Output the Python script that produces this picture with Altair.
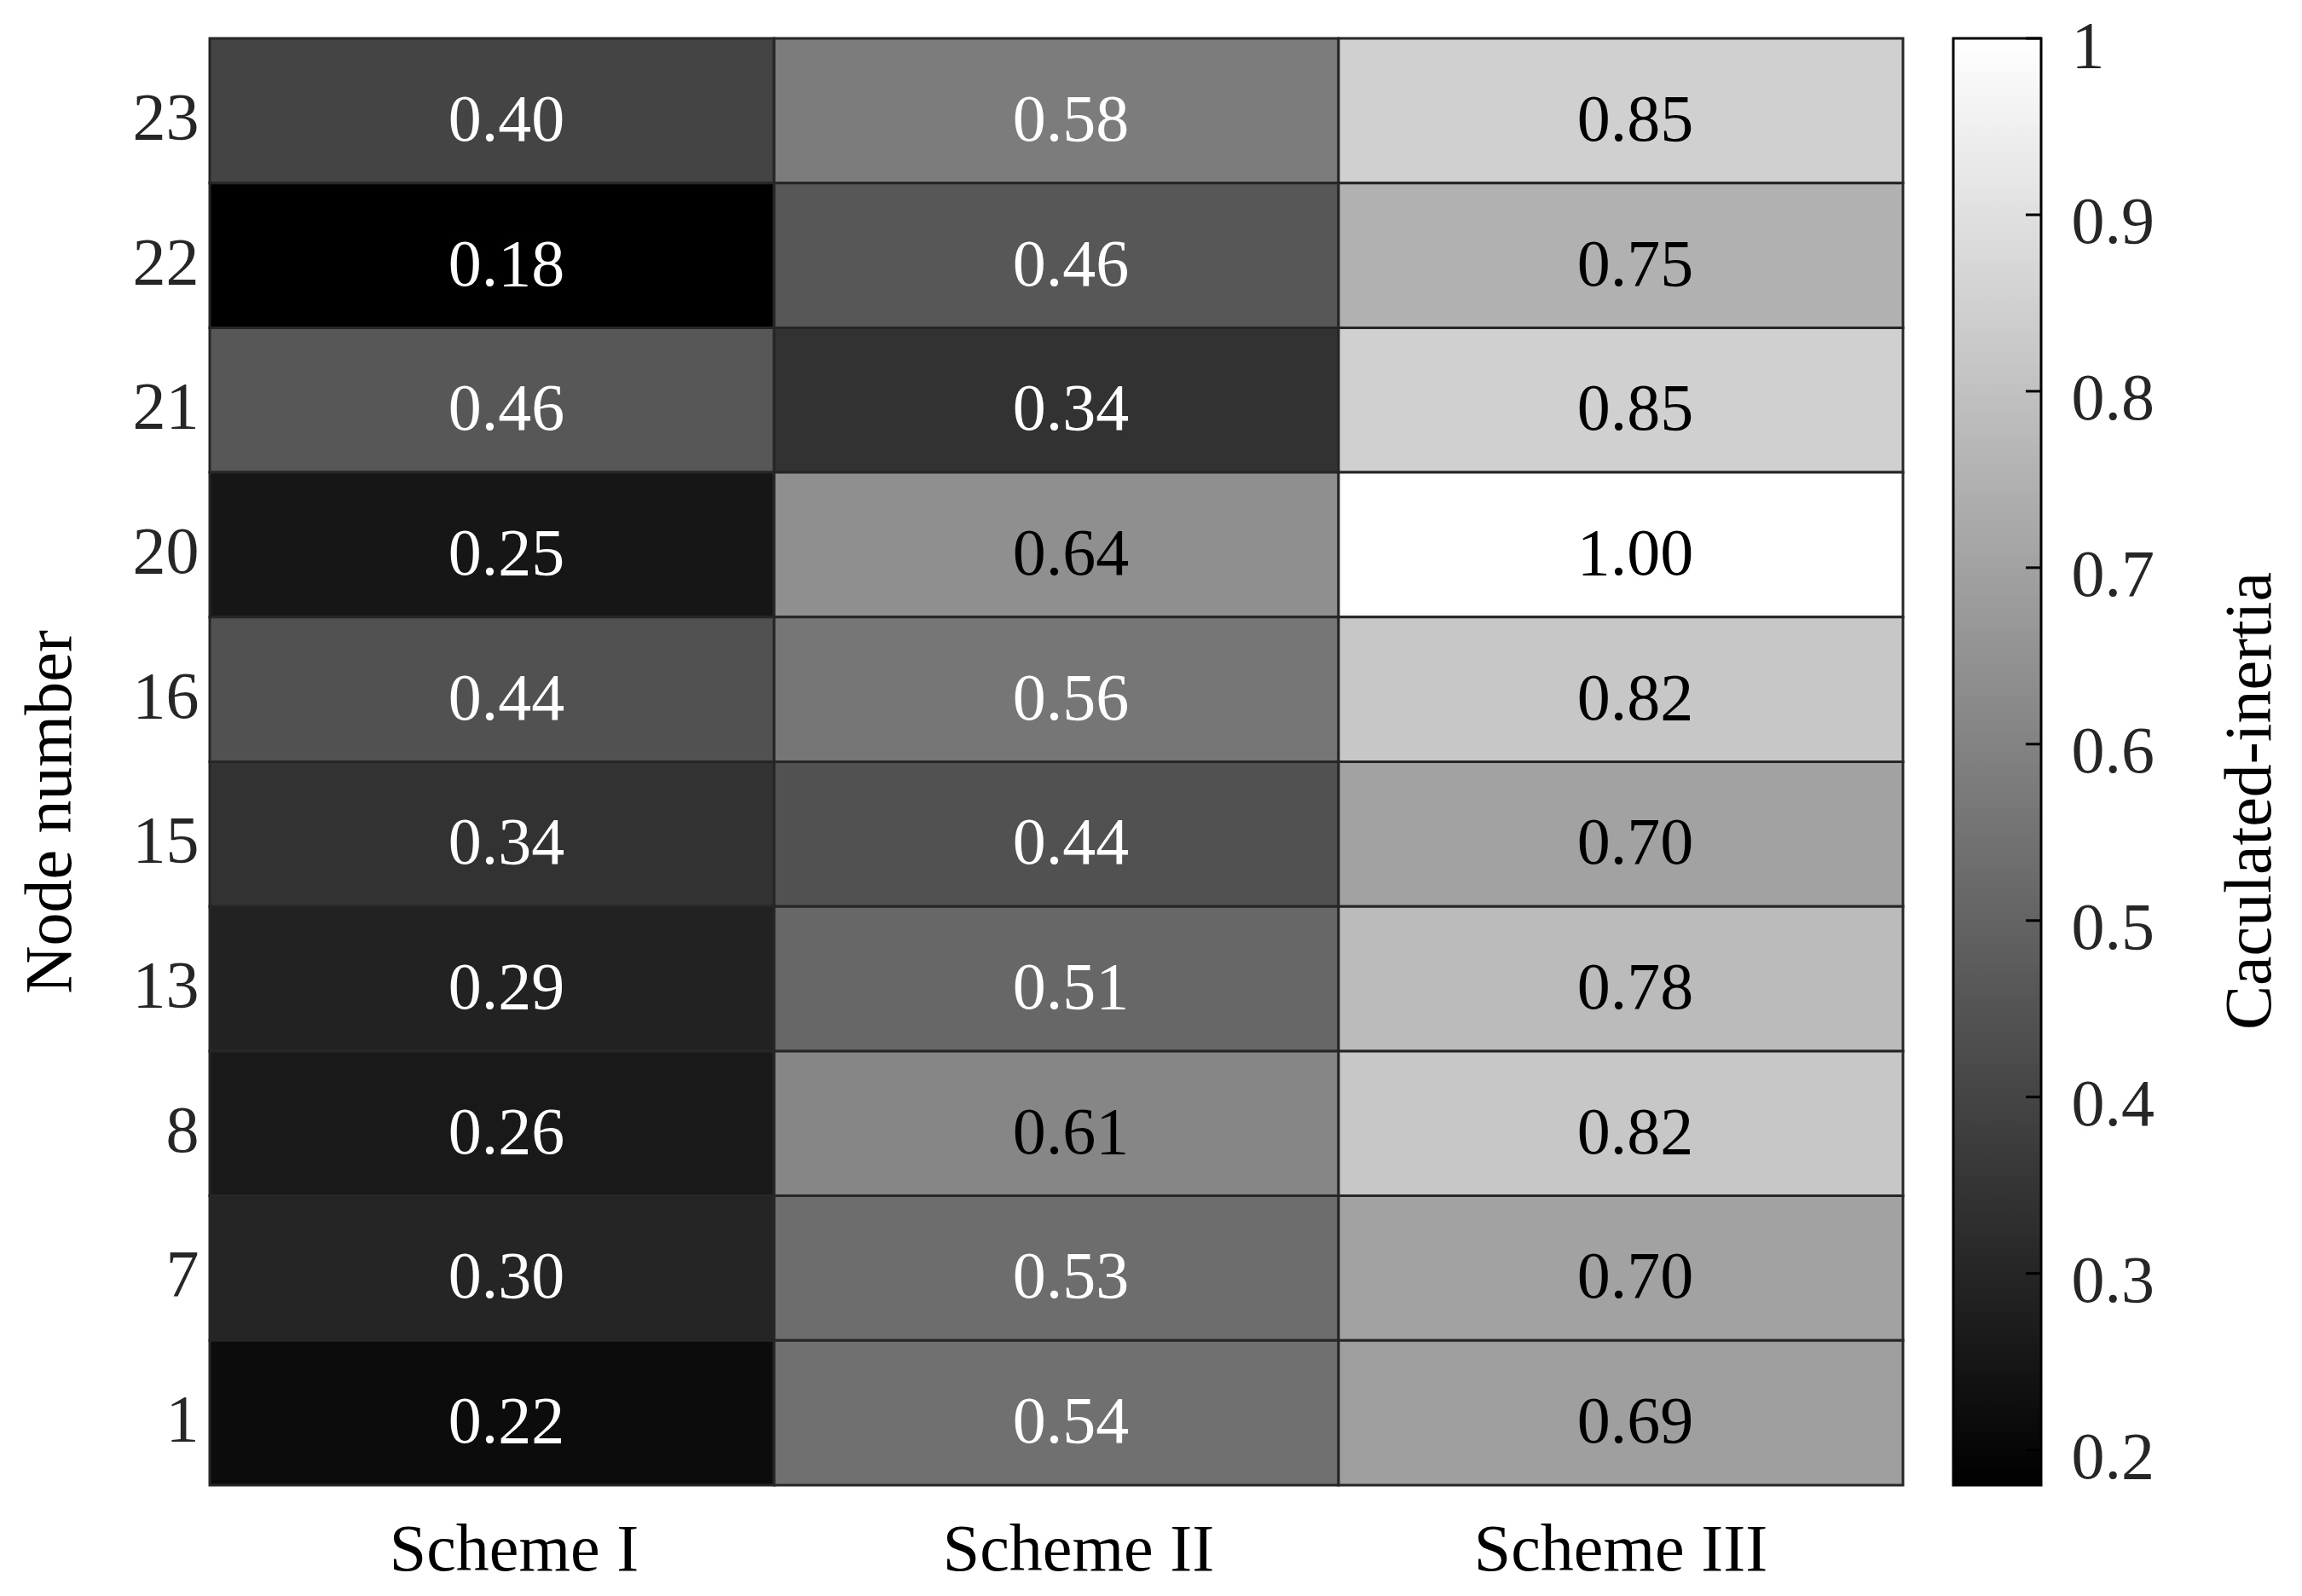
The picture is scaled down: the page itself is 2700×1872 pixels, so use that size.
import altair as alt
import pandas as pd

nodes = ["23", "22", "21", "20", "16", "15", "13", "8", "7", "1"]
schemes = ["Scheme I", "Scheme II", "Scheme III"]
scheme1 = [0.40, 0.18, 0.46, 0.25, 0.44, 0.34, 0.29, 0.26, 0.30, 0.22]
scheme2 = [0.58, 0.46, 0.34, 0.64, 0.56, 0.44, 0.51, 0.61, 0.53, 0.54]
scheme3 = [0.85, 0.75, 0.85, 1.00, 0.82, 0.70, 0.78, 0.82, 0.70, 0.69]
cbar_ticks = [0.2, 0.3, 0.4, 0.5, 0.6, 0.7, 0.8, 0.9, 1.0]

rows = []
for s, vals in zip(schemes, [scheme1, scheme2, scheme3]):
    for n, v in zip(nodes, vals):
        rows.append({"scheme": s, "node": n, "value": v})
df = pd.DataFrame(rows)
vmin, vmax = float(df["value"].min()), float(df["value"].max())

FONT = "Liberation Serif"
FS = 78
W, H = 1986, 1697
CBW = 103

color_scale = alt.Scale(domain=[vmin, vmax], range=["#000000", "#ffffff"], interpolate="rgb")

xenc = alt.X(
    "scheme:N", sort=schemes, title=None,
    axis=alt.Axis(labelAngle=0, ticks=False, domain=False, labelPadding=37, labelLimit=0,
                  labelFontSize=FS, labelFont=FONT, labelColor="#000000",
                  labelOffset={"condition": {"test": "datum.value == 'Scheme III'", "value": 0}, "value": 26}),
)
yenc = alt.Y(
    "node:N", sort=nodes, title="Node number",
    axis=alt.Axis(ticks=False, domain=False, labelPadding=13, labelOffset=10, labelLimit=0,
                  labelFontSize=FS, labelFont=FONT, labelColor="#262626",
                  titleFontSize=FS, titleFont=FONT, titleFontWeight="normal",
                  titleColor="#000000", titlePadding=57, titleY=907),
)

base = alt.Chart(df)
cells = base.mark_rect(stroke="#262626", strokeWidth=3).encode(
    x=xenc, y=yenc,
    color=alt.Color("value:Q", scale=color_scale, legend=None),
)
labels = base.mark_text(font=FONT, fontSize=FS, dx=17, dy=12).encode(
    x=xenc, y=yenc,
    text=alt.Text("value:Q", format=".2f"),
    color=alt.condition("datum.value < 0.6", alt.value("#ffffff"), alt.value("#000000")),
)
heat = alt.layer(cells, labels).properties(width=W, height=H)

cb_df = pd.DataFrame({"lo": [vmin], "hi": [vmax]})
tick_df = pd.DataFrame({"t": cbar_ticks})
cb_scale = alt.Scale(domain=[vmin, vmax], nice=False, zero=False)
cb_axis = alt.Axis(orient="right", values=cbar_ticks, format="~g", ticks=False,
                   domain=False, grid=False, labelPadding=35, labelOffset=10, labelLimit=0,
                   labelFontSize=FS, labelFont=FONT, labelColor="#262626",
                   titleFontSize=FS, titleFont=FONT, titleFontWeight="normal",
                   titleColor="#000000", titleAngle=270, titleBaseline="top",
                   titlePadding=74, titleY=894)

grad = alt.LinearGradient(
    gradient="linear",
    stops=[alt.GradientStop(color="#000000", offset=0), alt.GradientStop(color="#ffffff", offset=1)],
    x1=0, x2=0, y1=1, y2=0,
)
cb_rect = alt.Chart(cb_df).mark_rect(fill=grad, stroke="#000000", strokeWidth=3).encode(
    y=alt.Y("lo:Q", scale=cb_scale, title="Caculated-inertia", axis=cb_axis),
    y2="hi:Q",
    x=alt.value(0), x2=alt.value(CBW),
)
cb_ticks = alt.Chart(tick_df).mark_rule(color="#000000", strokeWidth=3).encode(
    y=alt.Y("t:Q", scale=cb_scale, title="Caculated-inertia", axis=cb_axis),
    x=alt.value(CBW - 18), x2=alt.value(CBW),
)
cbar = alt.layer(cb_rect, cb_ticks).properties(width=CBW, height=H)

chart = alt.hconcat(heat, cbar, spacing=55).properties(
    padding={"left": 12, "top": 8, "right": 5, "bottom": 5}
).configure_view(stroke=None).configure_concat(spacing=55)

chart.save("out.html", embed_options={"renderer": "svg", "actions": False})
